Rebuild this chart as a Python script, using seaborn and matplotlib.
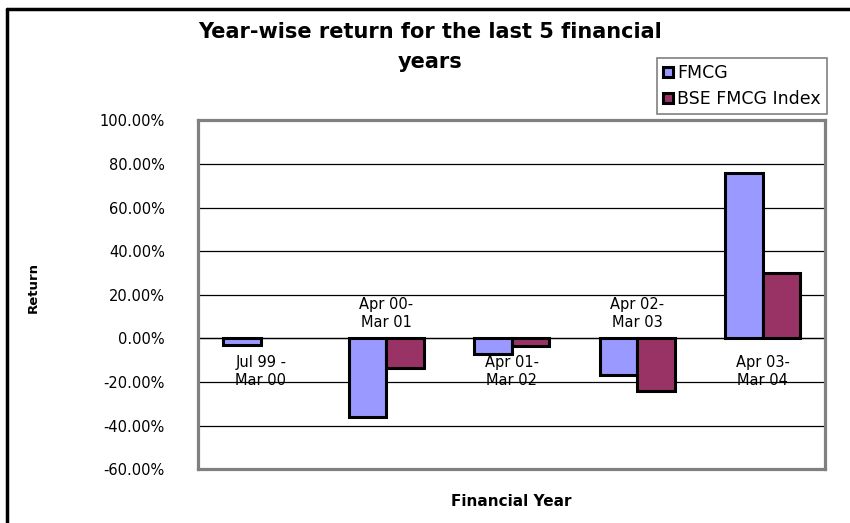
import matplotlib

matplotlib.use("Agg")
import matplotlib.pyplot as plt
import numpy as np
import pandas as pd
import seaborn as sns
from matplotlib.lines import Line2D
from matplotlib.ticker import FuncFormatter, MultipleLocator

periods = ["Jul 99 -\nMar 00", "Apr 00-\nMar 01", "Apr 01-\nMar 02",
           "Apr 02-\nMar 03", "Apr 03-\nMar 04"]
fmcg = [-3.2, -36.0, -7.0, -17.0, 76.0]
bse_index = [np.nan, -13.5, -3.5, -24.0, 30.0]  # no index bar for the first period
series_names = ["FMCG", "BSE FMCG Index"]
colors = ["#9999FF", "#993366"]

df = pd.DataFrame({
    "period": periods * 2,
    "series": [series_names[0]] * len(periods) + [series_names[1]] * len(periods),
    "ret": fmcg + bse_index,
})

sns.set_theme(style="white")
plt.rcParams["font.family"] = ["DejaVu Sans"]
plt.rcParams["text.color"] = "black"

fig = plt.figure(figsize=(8.5, 5.23), dpi=100)
ax = fig.add_axes([0.233, 0.103, 0.738, 0.667])

sns.barplot(data=df, x="period", y="ret", hue="series", palette=colors,
            width=0.6, edgecolor="black", linewidth=2.2, saturation=1,
            ax=ax, zorder=3)

ax.set_ylim(-60, 100)
ax.yaxis.set_major_locator(MultipleLocator(20))
ax.yaxis.set_major_formatter(FuncFormatter(lambda v, _: f"{v:.2f}%"))
ax.grid(axis="y", color="black", lw=0.9, zorder=0)
ax.tick_params(axis="y", length=0, pad=24, labelsize=10.5, colors="black")
ax.set_xticks([])
ax.axhline(0, color="black", lw=0.9, zorder=1)
for s in ax.spines.values():
    s.set_color("#808080")
    s.set_linewidth(2.3)

# staggered category labels sitting on the zero line
for i, lab in enumerate(periods):
    off = -24 if i % 2 == 0 else 18
    ax.annotate(lab, xy=(i, 0), xytext=(0, off), textcoords="offset points",
                ha="center", va="center", fontsize=10.5, color="black",
                linespacing=1.3, zorder=5)

ax.set_xlabel("Financial Year", fontsize=11, fontweight="bold", color="black")
ax.xaxis.set_label_coords(0.5, -0.072)
ax.set_ylabel("Return", fontsize=9.5, fontweight="bold", color="black")
ax.yaxis.set_label_coords(-0.252, 0.52)

handles, labels = ax.get_legend_handles_labels()
ax.legend(handles, labels, loc="upper right", bbox_to_anchor=(0.973, 0.889),
          bbox_transform=fig.transFigure, fontsize=12.5, frameon=True,
          fancybox=False, edgecolor="#808080", framealpha=1,
          handlelength=0.55, handleheight=0.55, handletextpad=0.25,
          borderpad=0.35, labelspacing=0.45, borderaxespad=0)
ax.get_legend().get_frame().set_linewidth(1.2)

fig.text(0.506, 0.957, "Year-wise return for the last 5 financial\nyears",
         ha="center", va="top", fontsize=15, fontweight="bold",
         linespacing=1.6, multialignment="center")

# outer chart border (only top and left edges fall inside the image)
fig.add_artist(Line2D([0.008, 0.008], [0.0, 0.983], color="black", lw=2.5,
                      transform=fig.transFigure))
fig.add_artist(Line2D([0.008, 1.0], [0.983, 0.983], color="black", lw=2.5,
                      transform=fig.transFigure))

fig.savefig("out.png", dpi=100)
